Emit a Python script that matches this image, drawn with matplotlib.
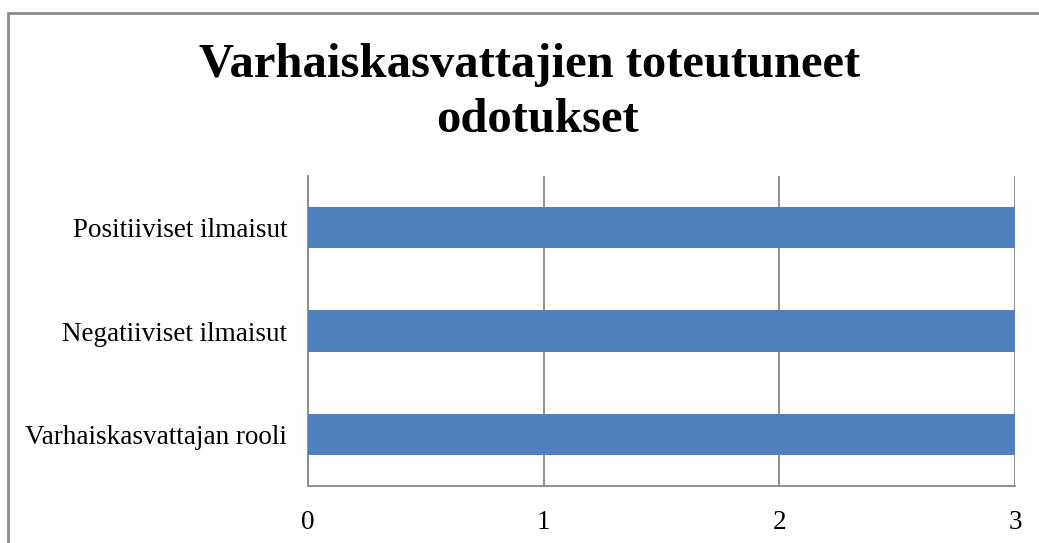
import matplotlib
matplotlib.use("Agg")
import matplotlib.pyplot as plt
from matplotlib.patches import Rectangle

categories = ["Varhaiskasvattajan rooli", "Negatiiviset ilmaisut", "Positiiviset ilmaisut"]
values = [3, 3, 3]
x_ticks = [0, 1, 2, 3]
title_lines = ["Varhaiskasvattajien toteutuneet", "odotukset"]

W, H = 1039, 543
plt.rcParams["font.family"] = "Liberation Serif"

fig = plt.figure(figsize=(W / 100, H / 100), dpi=100)
ax = fig.add_axes([308 / W, 1 - 486 / H, (1015 - 308) / W, (486 - 176) / H])

ax.barh(range(len(categories)), values, height=0.4, color="#4F81BD", zorder=3)

ax.set_xlim(0, 3)
ax.set_ylim(-0.5, 2.5)
ax.set_xticks(x_ticks)
ax.set_xticklabels([str(t) for t in x_ticks])
ax.set_yticks(range(len(categories)))
ax.set_yticklabels(categories)
ax.tick_params(axis="both", length=0, labelsize=19.5)
ax.tick_params(axis="x", pad=17)
ax.tick_params(axis="y", pad=15)

ax.grid(axis="x", color="#888888", linewidth=1.3, zorder=0)
for side in ["top", "right"]:
    ax.spines[side].set_visible(False)
for side in ["left", "bottom"]:
    ax.spines[side].set_color("#888888")
    ax.spines[side].set_linewidth(1.3)

# chart frame, cut off on the right and bottom like the original
fig.patches.append(Rectangle((8 / W, -0.2), 1.2, 1.2 - 13 / H, transform=fig.transFigure,
                             fill=False, edgecolor="#8c8c8c", linewidth=2))

# title, two centred lines
fig.text(530 / W, 1 - 77 / H, title_lines[0], ha="center", va="baseline",
         fontsize=35, fontweight="bold")
fig.text(537 / W, 1 - 132 / H, title_lines[1], ha="center", va="baseline",
         fontsize=35, fontweight="bold")

fig.savefig("out.png", dpi=100)
